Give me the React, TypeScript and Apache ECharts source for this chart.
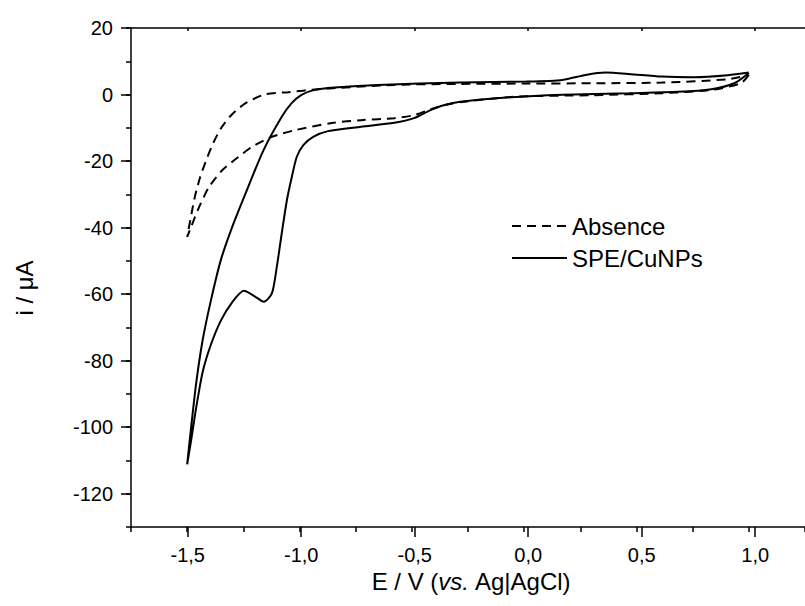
import React, { useEffect, useRef } from "react";
import * as echarts from "echarts";

// ---- Data (E in V vs. Ag|AgCl, i in µA) ----
// Absence: loop starting at +1.0 V, going negative (lower branch), then back (upper branch)
const absencePotential = [
  1.0, 0.965, 0.833, 0.612, 0.3, -0.049, -0.314, -0.402, -0.49, -0.578, -0.726, -0.851, -1.019,
  -1.123, -1.211, -1.284, -1.343, -1.402, -1.446, -1.482, -1.5,
  -1.481, -1.464, -1.442, -1.415, -1.384, -1.349, -1.305, -1.24, -1.152, -1.05, -0.917, -0.578,
  -0.285, 0.009, 0.318, 0.612, 0.906, 1.0,
];
const absenceCurrent = [
  5.9, 3.4, 1.4, 0.4, -0.2, -0.7, -2.6, -4.1, -6.2, -7.1, -7.7, -8.5, -10.7,
  -12.7, -15.7, -19.4, -22.7, -27.7, -33.7, -39.7, -42.8,
  -35.9, -30.2, -24.8, -19.7, -14.6, -10.1, -6.3, -2.6, 0.1, 0.7, 1.6, 2.9,
  3.2, 3.3, 3.4, 3.6, 4.6, 5.9,
];

// SPE/CuNPs: same loop order
const cuNPsPotential = [
  1.0, 0.935, 0.833, 0.685, 0.465, 0.171, -0.123, -0.285, -0.358, -0.417, -0.49, -0.578, -0.726,
  -0.873, -0.939, -0.983, -1.012, -1.034, -1.056, -1.079, -1.101, -1.123, -1.159, -1.196, -1.248,
  -1.299, -1.349, -1.395, -1.431, -1.46, -1.482, -1.5,
  -1.482, -1.46, -1.431, -1.394, -1.35, -1.299, -1.24, -1.16, -1.079, -1.035, -0.991,
  -0.932, -0.844, -0.652, -0.285, 0.009, 0.171, 0.274, 0.362, 0.465, 0.612, 0.759, 0.906, 1.0,
];
const cuNPsCurrent = [
  6.5, 3.4, 1.6, 0.8, 0.4, -0.1, -1.1, -2.2, -3.2, -4.7, -7.1, -8.5, -9.7,
  -11.0, -12.7, -15.2, -18.7, -24.7, -31.7, -41.7, -51.8, -59.8, -62.3, -60.8, -59.0,
  -62.4, -67.8, -75.3, -83.4, -94.2, -103.8, -111.2,
  -99.8, -86.8, -73.8, -61.8, -49.7, -39.7, -29.7, -16.7, -6.7, -2.6, -0.1,
  1.4, 2.1, 2.9, 3.6, 3.9, 4.4, 5.9, 6.6, 6.2, 5.4, 5.2, 5.8, 6.6,
];

const seriesNames = ["Absence", "SPE/CuNPs"];
const xMajorTicks = [-1.5, -1.0, -0.5, 0.0, 0.5, 1.0];
const yMajorTicks = [-120, -100, -80, -60, -40, -20, 0, 20];

const FONT = 'Arial, "Liberation Sans", Helvetica, sans-serif';

function zip(xs: number[], ys: number[]) {
  return xs.map((x, k) => [x, ys[k]]);
}

export default function App() {
  const ref = useRef<HTMLDivElement>(null);

  useEffect(() => {
    if (!ref.current) return;
    const chart = echarts.init(ref.current, undefined, { renderer: "svg" });

    const L = 131;
    const T = 28;
    const W = 680.9; // -1.75 .. 1.25 V
    const H = 499; // -130 .. 20 µA
    const black = "#000";
    const axisLineStyle = { color: black, width: 1.5 };

    const xFmt = (v: number) => v.toFixed(1).replace(".", ",");

    const option: any = {
      animation: false,
      backgroundColor: "#fff",
      textStyle: { fontFamily: FONT, color: black },
      grid: [
        { left: L, top: T, width: W, height: H },
        { left: L + W / 12, top: T, width: (W * 2.5) / 3, height: H },
        { left: L, top: T, width: W, height: (H * 140) / 150 },
      ],
      xAxis: [
        {
          gridIndex: 0,
          type: "value",
          min: -1.75,
          max: 1.25,
          interval: 0.25,
          position: "bottom",
          axisLine: { show: true, onZero: false, lineStyle: axisLineStyle },
          axisTick: { show: true, length: 5, lineStyle: axisLineStyle },
          axisLabel: { show: false },
          splitLine: { show: false },
        },
        {
          gridIndex: 0,
          type: "value",
          min: -1.75,
          max: 1.25,
          position: "top",
          axisLine: { show: true, onZero: false, lineStyle: axisLineStyle },
          axisTick: { show: false },
          axisLabel: { show: false },
          splitLine: { show: false },
        },
        {
          gridIndex: 1,
          type: "value",
          min: xMajorTicks[0],
          max: xMajorTicks[xMajorTicks.length - 1],
          interval: 0.5,
          position: "bottom",
          axisLine: { show: false, onZero: false },
          axisTick: { show: true, length: 10, lineStyle: axisLineStyle },
          axisLabel: {
            show: true,
            formatter: xFmt,
            fontSize: 20,
            color: black,
            fontFamily: FONT,
            margin: 18,
          },
          splitLine: { show: false },
          name: "{n|E / V (}{i|vs.}{n| Ag|AgCl)}",
          nameLocation: "middle",
          nameGap: 41,
          nameTextStyle: {
            fontSize: 24,
            color: black,
            fontFamily: FONT,
            rich: {
              n: { fontSize: 24, color: black, fontFamily: FONT },
              i: { fontSize: 24, color: black, fontFamily: FONT, fontStyle: "italic" },
            },
          },
        },
        {
          gridIndex: 1,
          type: "value",
          min: xMajorTicks[0],
          max: xMajorTicks[xMajorTicks.length - 1],
          interval: 0.5,
          position: "top",
          axisLine: { show: false, onZero: false },
          axisTick: { show: true, length: 3, inside: true, lineStyle: axisLineStyle },
          axisLabel: { show: false },
          splitLine: { show: false },
        },
        {
          gridIndex: 2,
          type: "value",
          show: false,
          min: -1.75,
          max: 1.25,
        },
      ],
      yAxis: [
        {
          gridIndex: 0,
          type: "value",
          min: -130,
          max: 20,
          interval: 10,
          axisLine: { show: true, onZero: false, lineStyle: axisLineStyle },
          axisTick: { show: true, length: 5, lineStyle: axisLineStyle },
          axisLabel: { show: false },
          splitLine: { show: false },
        },
        {
          gridIndex: 1,
          type: "value",
          show: false,
          min: -130,
          max: 20,
        },
        {
          gridIndex: 2,
          type: "value",
          min: yMajorTicks[0],
          max: yMajorTicks[yMajorTicks.length - 1],
          interval: 20,
          axisLine: { show: false, onZero: false },
          axisTick: { show: true, length: 10, lineStyle: axisLineStyle },
          axisLabel: {
            show: true,
            fontSize: 20,
            color: black,
            fontFamily: FONT,
            margin: 18,
          },
          splitLine: { show: false },
        },
      ],
      legend: {
        orient: "vertical",
        left: 506,
        top: 209,
        itemWidth: 55,
        itemHeight: 14,
        itemGap: 8,
        data: seriesNames,
        itemStyle: { opacity: 0 },
        textStyle: { fontSize: 24, color: black, fontFamily: FONT },
      },
      graphic: [
        {
          type: "text",
          x: 24,
          y: 288,
          rotation: Math.PI / 2,
          style: {
            text: "i / μA",
            x: 0,
            y: 0,
            align: "center",
            verticalAlign: "middle",
            textAlign: "center",
            textVerticalAlign: "middle",
            fontSize: 24,
            fontFamily: FONT,
            fill: black,
          },
        },
      ],
      series: [
        {
          name: seriesNames[0],
          type: "line",
          xAxisIndex: 0,
          yAxisIndex: 0,
          data: zip(absencePotential, absenceCurrent),
          symbol: "none",
          smooth: 0.25,
          lineStyle: { color: black, width: 2, type: [9, 6] },
          itemStyle: { color: black },
        },
        {
          name: seriesNames[1],
          type: "line",
          xAxisIndex: 0,
          yAxisIndex: 0,
          data: zip(cuNPsPotential, cuNPsCurrent),
          symbol: "none",
          smooth: 0.25,
          lineStyle: { color: black, width: 2, type: "solid" },
          itemStyle: { color: black },
        },
      ],
    };

    chart.setOption(option);
    return () => chart.dispose();
  }, []);

  return (
    <div
      ref={ref}
      style={{ position: "fixed", left: 0, top: 0, width: 805, height: 606, background: "#fff" }}
    />
  );
}
